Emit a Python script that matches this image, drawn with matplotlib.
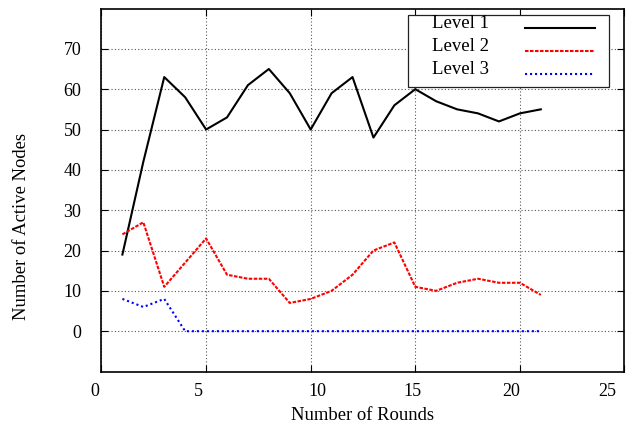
import matplotlib.pyplot as plt
from matplotlib.patches import Rectangle
from matplotlib.transforms import ScaledTranslation

plt.rcParams['font.family'] = ['Liberation Serif', 'DejaVu Serif']

rounds = list(range(1, 22))
level1 = [19, 42, 63, 58, 50, 53, 61, 65, 59, 50, 59, 63, 48, 56, 60, 57, 55, 54, 52, 54, 55]
level2 = [24, 27, 11, 17, 23, 14, 13, 13, 7, 8, 10, 14, 20, 22, 11, 10, 12, 13, 12, 12, 9]
level3 = [8, 6, 8, 0, 0, 0, 0, 0, 0, 0, 0, 0, 0, 0, 0, 0, 0, 0, 0, 0, 0]
labels = ['Level 1', 'Level 2', 'Level 3']

styles = [
    dict(color='black', lw=1.5, ls='-'),
    dict(color='red', lw=1.5, ls=(0, (1.7, 0.7))),
    dict(color='blue', lw=1.5, ls=(0, (1, 1.4))),
]

fig = plt.figure(figsize=(6.28, 4.23), dpi=100)
ax = fig.add_axes([0.1616, 0.1217, 0.8328, 0.8582])

for ys, st in zip([level1, level2, level3], styles):
    ax.plot(rounds, ys, **st)

ax.set_xlim(0, 25)
ax.set_ylim(-10, 80)
ax.set_xticks([0, 5, 10, 15, 20, 25])
ax.set_yticks(range(0, 80, 10))
ax.grid(True, color='#555555', ls=(0, (1, 2)), lw=0.8)
ax.tick_params(direction='in', top=True, right=True, labelsize=13, length=5)
ax.tick_params(axis='y', pad=14.5)
ax.tick_params(axis='x', pad=8)
for s in ax.spines.values():
    s.set_linewidth(1.2)

# nudge x tick labels sideways (pixels)
shifts = [-7, -8, 7, -3, -9, -17]
for lab, dx in zip(ax.get_xticklabels(), shifts):
    lab.set_transform(lab.get_transform() + ScaledTranslation(dx / 100, 0, fig.dpi_scale_trans))

ax.set_xlabel('Number of Rounds', fontsize=13.4, labelpad=5.5)
ax.set_ylabel('Number of Active Nodes', fontsize=13.4)
ax.yaxis.set_label_coords(-0.137, 0.40)

# key box in the upper right, text on the left and line samples on the right
ax.add_patch(Rectangle((0.5866, 0.7837), 0.971 - 0.5866, 0.982 - 0.7837, transform=ax.transAxes,
                       facecolor='white', edgecolor='#222222', lw=0.9, zorder=5))
key_y = [0.947, 0.883, 0.8187]
for lbl, st, y in zip(labels, styles, key_y):
    ax.text(0.6327, y, lbl, transform=ax.transAxes, fontsize=13.5, va='baseline', ha='left', zorder=6)
    ax.plot([0.8097, 0.9436], [y, y], transform=ax.transAxes, zorder=6, **st)

fig.savefig('out.png', dpi=100)
